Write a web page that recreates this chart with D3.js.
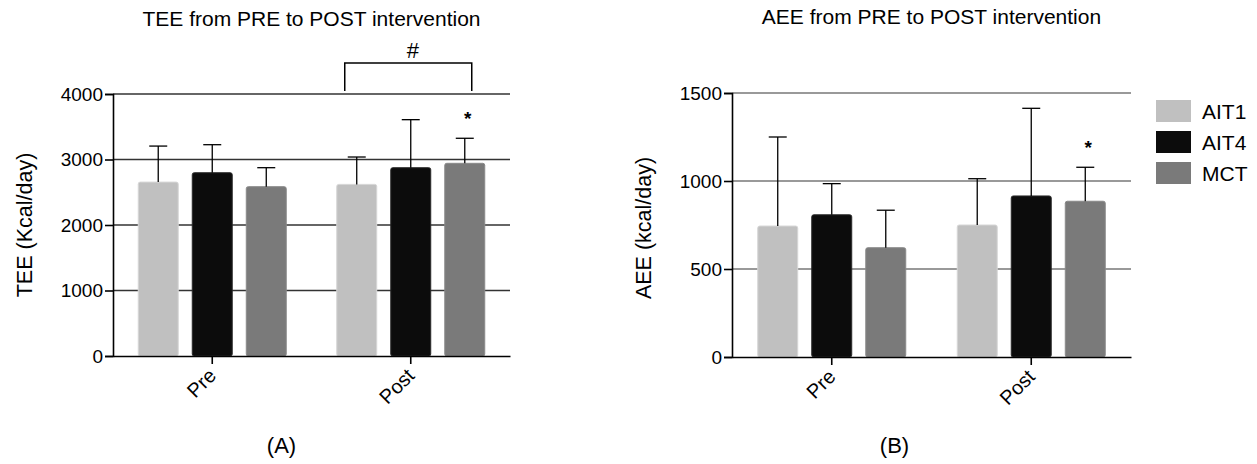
<!DOCTYPE html>
<html>
<head>
<meta charset="utf-8">
<script src="https://cdn.jsdelivr.net/npm/d3@7"></script>
<style>
  body { margin: 0; background: #fff; }
  text { font-family: "Liberation Sans", Arial, sans-serif; fill: #000; }
</style>
</head>
<body>
<svg id="lienzo" width="1257" height="464"></svg>
<script>
// categorias y series
const groups = ["Pre", "Post"];
const series = ["AIT1", "AIT4", "MCT"];
const colors = ["#c0c0c0", "#0c0c0c", "#7a7a7a"];
const borders = ["#d6d6d6", "#2a2a2a", "#8a8a8a"];

// TEE (Kcal/day), media y SD por grupo (Pre, Post)
const teeAIT1 = [2655, 2620];
const teeAIT4 = [2798, 2875];
const teeMCT = [2585, 2942];
const teeAIT1Sd = [550, 418];
const teeAIT4Sd = [428, 733];
const teeMCTSd = [290, 382];
const teeTicks = [0, 1000, 2000, 3000, 4000];

// AEE (kcal/day)
const aeeAIT1 = [744, 750];
const aeeAIT4 = [808, 915];
const aeeMCT = [621, 885];
const aeeAIT1Sd = [506, 263];
const aeeAIT4Sd = [177, 498];
const aeeMCTSd = [213, 193];
const aeeTicks = [0, 500, 1000, 1500];

const svg = d3.select('#lienzo');
const fuente = '"Liberation Sans", Arial, sans-serif';

function dibujarPanel(cfg) {
    const g = svg.append('g');
    const x = d3.scaleBand().domain(groups).range([cfg.x0, cfg.x1]);
    const xs = d3.scaleBand().domain(series).range([-74, 74]).paddingInner(0.26).paddingOuter(0);
    const y = d3.scaleLinear().domain([0, cfg.max]).range([cfg.bottom, cfg.top]);

    // lineas de la rejilla
    g.selectAll('line.grid')
        .data(cfg.ticks.slice(1))
        .enter()
        .append('line')
        .attr('class', 'grid')
        .attr('x1', cfg.x0)
        .attr('x2', cfg.x1)
        .attr('y1', d => y(d))
        .attr('y2', d => y(d))
        .attr('stroke', cfg.gridColor)
        .attr('stroke-width', 1.6);

    // barras
    const datos = [];
    groups.forEach((grp, gi) => {
        series.forEach((s, si) => {
            datos.push({ grp: grp, s: s, si: si, v: cfg.means[si][gi], sd: cfg.sds[si][gi] });
        });
    });

    g.selectAll('rect.bar')
        .data(datos)
        .enter()
        .append('rect')
        .attr('class', 'bar')
        .attr('x', d => x(d.grp) + x.bandwidth() / 2 + xs(d.s))
        .attr('y', d => y(d.v))
        .attr('width', xs.bandwidth())
        .attr('height', d => y(0) - y(d.v))
        .attr('rx', 2)
        .attr('fill', d => colors[d.si])
        .attr('stroke', d => borders[d.si])
        .attr('stroke-width', 1);

    // barras de error (solo hacia arriba)
    const cx = d => x(d.grp) + x.bandwidth() / 2 + xs(d.s) + xs.bandwidth() / 2;
    g.selectAll('line.err')
        .data(datos)
        .enter()
        .append('line')
        .attr('x1', cx)
        .attr('x2', cx)
        .attr('y1', d => y(d.v))
        .attr('y2', d => y(d.v + d.sd))
        .attr('stroke', '#000')
        .attr('stroke-width', 1.3);
    g.selectAll('line.cap')
        .data(datos)
        .enter()
        .append('line')
        .attr('x1', d => cx(d) - 9)
        .attr('x2', d => cx(d) + 9)
        .attr('y1', d => y(d.v + d.sd))
        .attr('y2', d => y(d.v + d.sd))
        .attr('stroke', '#000')
        .attr('stroke-width', 1.3);

    // ejes
    const ejeY = g.append('g')
        .attr('transform', `translate(${cfg.x0},0)`)
        .call(d3.axisLeft(y).tickValues(cfg.ticks).tickSize(8).tickPadding(2).tickFormat(d3.format('d')));
    ejeY.select('.domain').attr('stroke', '#000').attr('stroke-width', 1.6);
    ejeY.selectAll('.tick line').attr('stroke-width', 1.6);
    ejeY.selectAll('text').attr('font-size', '19px').style('font-family', fuente);

    const ejeX = g.append('g')
        .attr('transform', `translate(0,${cfg.bottom})`)
        .call(d3.axisBottom(x).tickSize(8).tickSizeOuter(0));
    ejeX.select('.domain').attr('stroke', '#000').attr('stroke-width', 1.6);
    ejeX.selectAll('.tick line').attr('stroke-width', 1.6);
    ejeX.selectAll('text')
        .attr('font-size', '20px')
        .style('font-family', fuente)
        .attr('text-anchor', 'end')
        .attr('dy', null)
        .attr('y', 0)
        .attr('transform', 'translate(5,21) rotate(-45)');

    const centro = (cfg.x0 + cfg.x1) / 2;

    // titulo
    g.append('text')
        .attr('x', centro)
        .attr('y', cfg.titleY)
        .attr('text-anchor', 'middle')
        .attr('font-size', '21px')
        .text(cfg.title);

    // etiqueta del eje Y
    g.append('text')
        .attr('transform', `translate(${cfg.x0 - 81},${cfg.labelY}) rotate(-90)`)
        .attr('text-anchor', 'middle')
        .attr('font-size', '21.5px')
        .text(cfg.label);

    // letra del panel
    g.append('text')
        .attr('x', centro + cfg.letraDx)
        .attr('y', 453)
        .attr('text-anchor', 'middle')
        .attr('font-size', '22px')
        .text(cfg.letra);

    // asterisco sobre MCT Post
    const mctPost = datos.find(d => d.grp === 'Post' && d.s === 'MCT');
    g.append('text')
        .attr('x', cx(mctPost) + 3)
        .attr('y', y(mctPost.v + mctPost.sd) - 13)
        .attr('text-anchor', 'middle')
        .attr('font-size', '19px')
        .attr('font-weight', 'bold')
        .text('*');

    return { g: g, x: x, y: y };
}

const panelA = dibujarPanel({
    x0: 113, x1: 510, top: 94, bottom: 356, max: 4000,
    ticks: teeTicks,
    means: [teeAIT1, teeAIT4, teeMCT],
    sds: [teeAIT1Sd, teeAIT4Sd, teeMCTSd],
    gridColor: '#333',
    title: 'TEE from PRE to POST intervention', titleY: 26,
    label: 'TEE (Kcal/day)', labelY: 225,
    letra: '(A)', letraDx: -30
});

const panelB = dibujarPanel({
    x0: 732, x1: 1131, top: 93, bottom: 357, max: 1500,
    ticks: aeeTicks,
    means: [aeeAIT1, aeeAIT4, aeeMCT],
    sds: [aeeAIT1Sd, aeeAIT4Sd, aeeMCTSd],
    gridColor: '#777',
    title: 'AEE from PRE to POST intervention', titleY: 24,
    label: 'AEE (kcal/day)', labelY: 228,
    letra: '(B)', letraDx: -37
});

// corchete de significancia (#) en panel A
const bx = panelA.x('Post') + panelA.x.bandwidth() / 2;
panelA.g.append('path')
    .attr('d', `M${bx - 66},91 V63 H${bx + 61} V91`)
    .attr('fill', 'none')
    .attr('stroke', '#000')
    .attr('stroke-width', 1.5);
panelA.g.append('text')
    .attr('x', bx + 2)
    .attr('y', 58)
    .attr('text-anchor', 'middle')
    .attr('font-size', '22px')
    .text('#');

// leyenda
const leyenda = svg.append('g').attr('transform', 'translate(1156,100)');
leyenda.selectAll('rect')
    .data(series)
    .enter()
    .append('rect')
    .attr('x', 0)
    .attr('y', (d, i) => i * 31)
    .attr('width', 35)
    .attr('height', 22)
    .attr('fill', (d, i) => colors[i]);
leyenda.selectAll('text')
    .data(series)
    .enter()
    .append('text')
    .attr('x', 46)
    .attr('y', (d, i) => i * 31 + 19)
    .attr('font-size', '21px')
    .text(d => d);
</script>
</body>
</html>
